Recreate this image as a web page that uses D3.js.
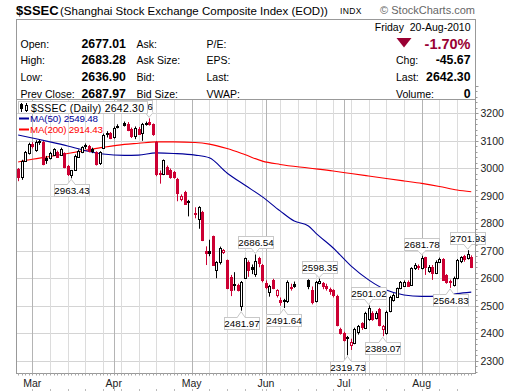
<!DOCTYPE html>
<html><head><meta charset="utf-8">
<script src="https://cdn.jsdelivr.net/npm/d3@7"></script>
<style>body{margin:0;background:#fff}svg{display:block}text{font-family:"Liberation Sans",Arial,sans-serif}</style>
</head><body><svg id="c" width="520" height="391"></svg>
<script>
// ---------- data ----------
const dates = ["2010-02-23","2010-02-24","2010-02-25","2010-02-26","2010-03-01","2010-03-02","2010-03-03","2010-03-04","2010-03-05","2010-03-08","2010-03-09","2010-03-10","2010-03-11","2010-03-12","2010-03-15","2010-03-16","2010-03-17","2010-03-18","2010-03-19","2010-03-22","2010-03-23","2010-03-24","2010-03-25","2010-03-26","2010-03-29","2010-03-30","2010-03-31","2010-04-01","2010-04-02","2010-04-06","2010-04-07","2010-04-08","2010-04-09","2010-04-12","2010-04-13","2010-04-14","2010-04-15","2010-04-16","2010-04-19","2010-04-20","2010-04-21","2010-04-22","2010-04-23","2010-04-26","2010-04-27","2010-04-28","2010-04-29","2010-04-30","2010-05-04","2010-05-05","2010-05-06","2010-05-07","2010-05-10","2010-05-11","2010-05-12","2010-05-13","2010-05-14","2010-05-17","2010-05-18","2010-05-19","2010-05-20","2010-05-21","2010-05-24","2010-05-25","2010-05-26","2010-05-27","2010-05-28","2010-05-31","2010-06-01","2010-06-02","2010-06-03","2010-06-04","2010-06-07","2010-06-08","2010-06-09","2010-06-10","2010-06-11","2010-06-17","2010-06-18","2010-06-21","2010-06-22","2010-06-23","2010-06-24","2010-06-25","2010-06-28","2010-06-29","2010-06-30","2010-07-01","2010-07-02","2010-07-05","2010-07-06","2010-07-07","2010-07-08","2010-07-09","2010-07-12","2010-07-13","2010-07-14","2010-07-15","2010-07-16","2010-07-19","2010-07-20","2010-07-21","2010-07-22","2010-07-23","2010-07-26","2010-07-27","2010-07-28","2010-07-29","2010-07-30","2010-08-02","2010-08-03","2010-08-04","2010-08-05","2010-08-06","2010-08-09","2010-08-10","2010-08-11","2010-08-12","2010-08-13","2010-08-16","2010-08-17","2010-08-18","2010-08-19","2010-08-20"];
const open  = [2998,2969,3028,3056,3088,3068,3094,3097,3036,3037,3049,3060,3050,3054,3010,2975,2994,3042,3060,3083,3080,3070,3058,3018,3074,3130,3128,3112,3155,3166,3160,3142,3116,3144,3130,3160,3170,3160,3097,2984,2980,3005,2995,2985,2962,2888,2915,2880,2832,2815,2842,2700,2700,2752,2630,2658,2694,2665,2606,2580,2576,2498,2602,2660,2640,2615,2672,2648,2582,2550,2594,2538,2521,2520,2516,2568,2578,2594,2557,2516,2582,2582,2572,2560,2557,2537,2414,2400,2385,2358,2365,2405,2436,2420,2450,2473,2455,2488,2414,2400,2480,2521,2533,2566,2572,2588,2575,2636,2645,2636,2676,2625,2642,2620,2660,2670,2612,2590,2576,2600,2662,2680,2672,2677.01];
const high  = [3001,3031,3063,3093,3095,3102,3104,3099,3045,3060,3073,3064,3075,3058,3012,2994,3050,3068,3080,3090,3085,3075,3062,3062,3126,3135,3132,3152,3160,3170,3168,3148,3152,3150,3165,3170,3181.66,3163,3099,2992,3032,3010,2999,2990,2965,2905,2918,2885,2858,2862,2845,2716,2740,2755,2662,2715,2706,2668,2612,2622,2580,2590,2675,2665,2650,2686.54,2678,2652,2592,2576,2598,2560,2530,2525,2592,2580,2588,2596,2570,2590,2598.35,2586,2580,2566,2560,2540,2420,2405,2390,2380,2420,2430,2440,2478,2501.02,2480,2480,2492,2430,2482,2536,2545,2566,2590,2592,2592,2640,2655,2650,2681.78,2678,2648,2648,2665,2675,2673,2615,2595,2606,2670,2680,2685,2701.93,2683.28];
const low   = [2953,2958,3024,3050,3072,3060,3085,3011,3016,3032,3045,3038,3046,3000,2972,2963.43,2990,3038,3055,3070,3058,3055,3010,3012,3070,3112,3106,3108,3145,3152,3135,3110,3106,3122,3100,3155,3155,3118,2971,2944,2975,2978,2962,2962,2880,2880,2868,2825,2818,2780,2735,2648,2680,2645,2600,2650,2688,2560,2535,2555,2552,2481.97,2598,2605,2615,2605,2640,2585,2560,2533,2560,2530,2500,2491.64,2510,2555,2565,2560,2505,2512,2578,2560,2555,2540,2530,2425,2395,2370,2319.73,2339,2360,2395,2412,2415,2445,2445,2450,2425,2389.07,2395,2476,2515,2530,2560,2568,2570,2572,2630,2630,2632,2612,2620,2594,2615,2655,2590,2580,2564.83,2570,2596,2655,2660,2668,2636.90];
const close = [2969,3026,3058,3088,3080,3096,3098,3018,3028,3057,3070,3042,3070,3004,2980,2992,3046,3064,3076,3078,3062,3064,3014,3058,3122,3126,3110,3148,3152,3160,3138,3115,3148,3126,3160,3166,3162,3122,2981,2979,3029,2981,2968,2967,2910,2900,2873,2876,2838,2858,2739,2692,2694,2648,2658,2710,2701,2563,2558,2576,2556,2586,2672,2630,2634,2662,2655,2594,2569,2571,2564,2556,2512,2515,2587,2566,2570,2572,2512,2586,2590,2570,2565,2551,2537,2430,2400,2373,2380,2369,2416,2425,2420,2472,2490,2452,2472,2430,2425,2478,2532,2538,2563,2585,2588,2575,2636,2648,2640,2673,2638,2642,2620,2660,2670,2595,2588,2585,2602,2666,2676,2670,2687.97,2642.30];

const ma50Dates  = ["2010-02-23","2010-03-01","2010-03-08","2010-03-15","2010-03-22","2010-03-29","2010-04-06","2010-04-12","2010-04-19","2010-04-26","2010-05-04","2010-05-10","2010-05-17","2010-05-24","2010-05-31","2010-06-07","2010-06-11","2010-06-17","2010-06-21","2010-06-28","2010-07-05","2010-07-12","2010-07-19","2010-07-26","2010-08-02","2010-08-09","2010-08-16","2010-08-20"];
const ma50       = [3121,3110,3096,3081,3064,3052,3047,3048,3056,3054,3048,3038,2983,2939,2896,2845,2808,2790,2765,2710,2645,2594,2557,2539,2534,2535,2544,2549.48];
const ma200Dates = ["2010-02-23","2010-03-01","2010-03-08","2010-03-15","2010-03-22","2010-03-29","2010-04-06","2010-04-12","2010-04-19","2010-04-26","2010-05-04","2010-05-10","2010-05-17","2010-05-24","2010-05-31","2010-06-07","2010-06-17","2010-06-28","2010-07-05","2010-07-12","2010-07-19","2010-07-26","2010-08-02","2010-08-09","2010-08-16","2010-08-20"];
const ma200      = [3023,3033,3043,3054,3065,3076,3087,3091,3096,3096,3094,3088,3072,3050,3026,3014,3001,2990,2981,2972,2963,2954,2945,2934,2921,2914.43];

const yTicks = [2300,2400,2500,2600,2700,2800,2900,3000,3100,3200];
const monthStarts = ["2010-03-01","2010-04-01","2010-05-03","2010-06-01","2010-07-01","2010-08-02"];
const monthLabels = ["Mar","Apr","May","Jun","Jul","Aug"];

const annDates  = ["2010-04-15","2010-03-16","2010-05-27","2010-05-21","2010-06-08","2010-06-22","2010-07-02","2010-07-12","2010-07-16","2010-08-02","2010-08-12","2010-08-19"];
const annValues = [3181.66,2963.43,2686.54,2481.97,2491.64,2598.35,2319.73,2501.02,2389.07,2681.78,2564.83,2701.93];
const annKinds  = ["high","low","high","low","low","high","low","high","low","high","low","high"];

const headLabels1 = ["Open:","High:","Low:","Prev Close:"];
const headValues1 = ["2677.01","2683.28","2636.90","2687.97"];
const headLabels2 = ["Ask:","Ask Size:","Bid:","Bid Size:"];
const headLabels3 = ["P/E:","EPS:","Last:","VWAP:"];

// ---------- setup ----------
const svg = d3.select("#c");
const P = {l:16.5, r:475.5, t:99.5, b:373.5};
const parse = d3.timeParse("%Y-%m-%d"), fmt = d3.timeFormat("%Y-%m-%d");
const allDays = d3.timeDay.range(parse("2010-02-23"), parse("2010-08-21"))
  .filter(d => d.getDay() > 0 && d.getDay() < 6).map(fmt);
const x = d3.scaleBand().domain(allDays).range([16.37, 16.37 + allDays.length*3.54]);
const xc = d => x(d) + x.bandwidth()/2;
const y = d3.scaleLinear().domain([2300,3200]).range([360.7,113.3]);

const RED = "#cc0033", BLUE = "#000099", MAR = "#990033";

// ---------- header ----------
svg.append("text").attr("x",16).attr("y",14.5).attr("font-size",13).attr("font-weight","bold").text("$SSEC");
svg.append("text").attr("x",60).attr("y",14.5).attr("font-size",11.5).text("(Shanghai Stock Exchange Composite Index (EOD))");
svg.append("text").attr("x",340).attr("y",14).attr("font-size",8.5).attr("letter-spacing",0.4).text("INDX");
svg.append("text").attr("x",475).attr("y",14).attr("text-anchor","end").attr("font-size",11).attr("fill","#666").text("\u00A9 StockCharts.com");
svg.append("rect").attr("x",16.5).attr("y",19.5).attr("width",459).attr("height",80).attr("fill","none").attr("stroke","#999");

const rowY = [47.5,64.3,81.2,98];
headLabels1.forEach((t,i)=>svg.append("text").attr("x",20.5).attr("y",rowY[i]).attr("font-size",10.5).text(t));
headValues1.forEach((t,i)=>svg.append("text").attr("x",81.5).attr("y",rowY[i]).attr("font-size",12.3).attr("font-weight","bold").text(t));
headLabels2.forEach((t,i)=>svg.append("text").attr("x",136.5).attr("y",rowY[i]).attr("font-size",10.5).text(t));
headLabels3.forEach((t,i)=>svg.append("text").attr("x",206.5).attr("y",rowY[i]).attr("font-size",10.5).text(t));

svg.append("text").attr("x",470.5).attr("y",30.5).attr("text-anchor","end").attr("font-size",10.5).attr("xml:space","preserve").text("Friday  20-Aug-2010");
svg.append("path").attr("d","M396.5,38 L411.5,38 L404,47.5 Z").attr("fill",MAR);
svg.append("text").attr("x",470.5).attr("y",48.5).attr("text-anchor","end").attr("font-size",14.5).attr("font-weight","bold").attr("fill",MAR).text("-1.70%");
const rLab = ["Chg:","Last:","Volume:"], rVal = ["-45.67","2642.30","0"], rY = [64.3,81.2,98];
rLab.forEach((t,i)=>svg.append("text").attr("x",396).attr("y",rY[i]).attr("font-size",10.5).text(t));
rVal.forEach((t,i)=>svg.append("text").attr("x",470.5).attr("y",rY[i]).attr("text-anchor","end").attr("font-size",12.3).attr("font-weight","bold").text(t));

// ---------- plot grid ----------
const g = svg.append("g");
g.append("rect").attr("x",P.l).attr("y",P.t).attr("width",P.r-P.l).attr("height",P.b-P.t).attr("fill","#fff");
g.selectAll(".hg").data(yTicks).join("line")
  .attr("x1",P.l).attr("x2",P.r).attr("y1",d=>Math.round(y(d))+0.5).attr("y2",d=>Math.round(y(d))+0.5)
  .attr("stroke","#d4d4d4");
const mondays = allDays.filter(d => parse(d).getDay()===1 && !monthStarts.includes(d));
g.selectAll(".wg").data(mondays).join("line")
  .attr("x1",d=>Math.round(xc(d))+0.5).attr("x2",d=>Math.round(xc(d))+0.5).attr("y1",P.t).attr("y2",P.b)
  .attr("stroke","#dcdcdc");
g.selectAll(".mg").data(monthStarts).join("line")
  .attr("x1",d=>Math.round(xc(d))+0.5).attr("x2",d=>Math.round(xc(d))+0.5).attr("y1",P.t).attr("y2",P.b)
  .attr("stroke","#b4b4b4");

svg.append("clipPath").attr("id","clp").append("rect")
  .attr("x",P.l).attr("y",P.t).attr("width",P.r-P.l).attr("height",P.b-P.t);
const pg = svg.append("g").attr("clip-path","url(#clp)");

// ---------- moving averages ----------
const line = d3.line().x(d=>xc(d[0])).y(d=>y(d[1])).curve(d3.curveMonotoneX);
pg.append("path").datum(ma200Dates.map((d,i)=>[d,ma200[i]])).attr("d",line).attr("fill","none").attr("stroke","#ff0000").attr("stroke-width",1.1);
pg.append("path").datum(ma50Dates.map((d,i)=>[d,ma50[i]])).attr("d",line).attr("fill","none").attr("stroke",BLUE).attr("stroke-width",1.1);

// ---------- candles ----------
const bars = dates.map((d,i)=>({d,o:open[i],h:high[i],l:low[i],c:close[i],pc:i?close[i-1]:open[i]}));
pg.selectAll(".cdl").data(bars).join("g").each(function(b){
  const s = d3.select(this);
  const col = b.c >= b.pc ? "#000" : RED;
  const cx = Math.round(xc(b.d));
  s.append("line").attr("x1",cx+0.5).attr("x2",cx+0.5).attr("y1",y(b.h)).attr("y2",y(b.l)).attr("stroke",col);
  const top = Math.min(y(b.o),y(b.c)), bot = Math.max(y(b.o),y(b.c));
  if (b.c > b.o) {
    s.append("rect").attr("x",cx-0.5).attr("y",Math.round(top)+0.5).attr("width",2).attr("height",Math.max(1,Math.round(bot)-Math.round(top)))
      .attr("fill","#fff").attr("stroke",col);
  } else {
    s.append("rect").attr("x",cx-1).attr("y",Math.round(top)).attr("width",3).attr("height",Math.max(1,Math.round(bot-top)+1)).attr("fill",col);
  }
});

// ---------- annotations (not clipped) ----------
const ag = svg.append("g");
annDates.forEach((d,i)=>{
  const px = xc(d), py = y(annValues[i]), hi = annKinds[i]==="high";
  const w = 35, h = 12;
  const by = hi ? Math.round(py - 6 - h)+0.5 : Math.round(py + 6)+0.5;
  let bx = Math.round(px - w/2)+0.5;
  if (by < 114 && bx < 150) bx = Math.round(px + 3 - w)+0.5;   // tucked under the legend box
  const tipY = hi ? py - 1 : py + 1;
  const baseY = hi ? by + h : by;
  ag.append("rect").attr("x",bx).attr("y",by).attr("width",w).attr("height",h).attr("fill","#fff").attr("stroke","#c8c8c8");
  ag.append("path").attr("d",`M${px-4},${baseY} L${px},${tipY} L${px+4},${baseY}`).attr("fill","#fff").attr("stroke","#c8c8c8");
  ag.append("line").attr("x1",px-3.4).attr("x2",px+3.4).attr("y1",baseY).attr("y2",baseY).attr("stroke","#fff").attr("stroke-width",1.2);
  ag.append("text").attr("x",bx+w/2).attr("y",by+h-2.5).attr("text-anchor","middle").attr("font-size",9.8).text(annValues[i].toFixed(2));
});

// ---------- legend ----------
const lg = svg.append("g");
lg.append("rect").attr("x",18.5).attr("y",101.5).attr("width",129).attr("height",12).attr("fill","#fff").attr("stroke","#c8c8c8");
lg.append("line").attr("x1",21.5).attr("x2",21.5).attr("y1",103).attr("y2",112).attr("stroke","#000");
lg.append("rect").attr("x",20).attr("y",104).attr("width",3).attr("height",5).attr("fill","#000");
lg.append("line").attr("x1",26.5).attr("x2",26.5).attr("y1",103).attr("y2",112).attr("stroke","#000");
lg.append("rect").attr("x",25.5).attr("y",105.5).attr("width",2).attr("height",5).attr("fill","#fff").attr("stroke","#000");
lg.append("text").attr("x",31).attr("y",111.5).attr("font-size",10.5).attr("textLength",113).attr("lengthAdjust","spacing").text("$SSEC (Daily) 2642.30");
lg.append("line").attr("x1",19).attr("x2",29).attr("y1",118.5).attr("y2",118.5).attr("stroke",BLUE).attr("stroke-width",2);
lg.append("text").attr("x",30).attr("y",122).attr("font-size",9.8).attr("textLength",68).attr("lengthAdjust","spacing").attr("fill",BLUE).text("MA(50) 2549.48");
lg.append("line").attr("x1",19).attr("x2",29).attr("y1",129.5).attr("y2",129.5).attr("stroke","#ff0000").attr("stroke-width",2);
lg.append("text").attr("x",30).attr("y",133).attr("font-size",9.8).attr("textLength",73).attr("lengthAdjust","spacing").attr("fill","#ff0000").text("MA(200) 2914.43");

// ---------- border & axes ----------
svg.append("rect").attr("x",P.l).attr("y",P.t).attr("width",P.r-P.l).attr("height",P.b-P.t).attr("fill","none").attr("stroke","#999");
const ya = svg.append("g").attr("transform",`translate(${P.r},0)`)
  .call(d3.axisRight(y).tickValues(yTicks).tickSize(0).tickPadding(5).tickFormat(d3.format("d")));
ya.select(".domain").remove();
ya.selectAll("text").attr("font-size",10.5).attr("font-family","Liberation Sans").attr("fill","#222");
const minor = d3.range(2260,3320,20);
svg.append("g").selectAll("line").data(minor).join("line")
  .attr("x1",P.r).attr("x2",d=>P.r+(d%100===0?3:2)).attr("y1",d=>Math.round(y(d))+0.5).attr("y2",d=>Math.round(y(d))+0.5).attr("stroke","#999");
const xa = svg.append("g").attr("transform",`translate(0,${P.b})`)
  .call(d3.axisBottom(x).tickValues(monthStarts).tickSize(0).tickPadding(6).tickFormat((d,i)=>monthLabels[i]));
xa.select(".domain").remove();
xa.selectAll("text").attr("font-size",10.5).attr("font-family","Liberation Sans").attr("fill","#222");
svg.append("g").selectAll("line").data(allDays).join("line")
  .attr("x1",d=>Math.round(xc(d))+0.5).attr("x2",d=>Math.round(xc(d))+0.5).attr("y1",P.b).attr("y2",P.b+2).attr("stroke","#aaa");
svg.append("g").selectAll("line").data(allDays.filter(d=>parse(d).getDay()===1||monthStarts.includes(d))).join("line")
  .attr("x1",d=>Math.round(xc(d))+0.5).attr("x2",d=>Math.round(xc(d))+0.5).attr("y1",389).attr("y2",391).attr("stroke","#bbb");
</script></body></html>
